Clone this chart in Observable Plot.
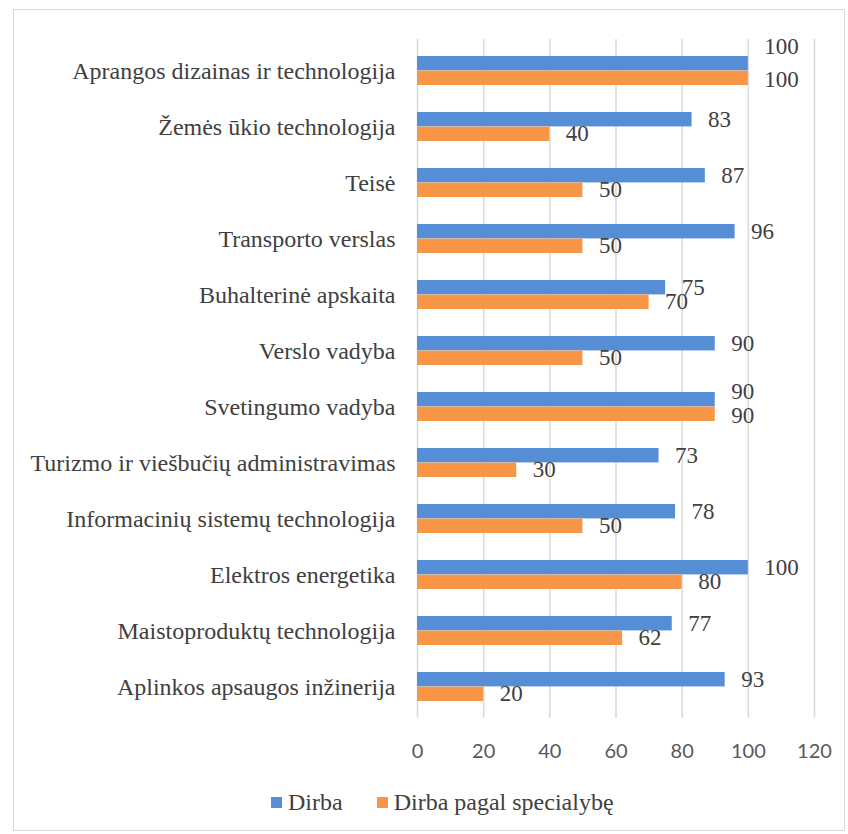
<!DOCTYPE html>
<html><head><meta charset="utf-8">
<script src="https://cdn.jsdelivr.net/npm/d3@7"></script>
<script src="https://cdn.jsdelivr.net/npm/@observablehq/plot@0.6"></script>
<style>
body{margin:0;background:#fff;width:848px;height:834px;overflow:hidden;position:relative;}
#frame{position:absolute;left:13px;top:9px;width:832px;height:822px;border:1px solid #d9d9d9;box-sizing:border-box;}
#chart{position:absolute;left:0;top:0;}
#legend{position:absolute;left:271px;top:789px;display:flex;align-items:center;font-family:"Liberation Serif","Times New Roman",serif;font-size:24px;line-height:26px;color:#404040;white-space:nowrap;}
#legend .sw{display:inline-block;width:11px;height:11px;margin-right:6px;}
#legend .item{display:flex;align-items:center;margin-right:34px;}
</style>
</head><body>
<div id="frame"></div>
<div id="chart"></div>
<div id="legend"></div>
<script>
const categories = [
  "Aprangos dizainas ir technologija",
  "Žemės ūkio technologija",
  "Teisė",
  "Transporto verslas",
  "Buhalterinė apskaita",
  "Verslo vadyba",
  "Svetingumo vadyba",
  "Turizmo ir viešbučių administravimas",
  "Informacinių sistemų technologija",
  "Elektros energetika",
  "Maistoproduktų technologija",
  "Aplinkos apsaugos inžinerija"
];
const dirba = [100, 83, 87, 96, 75, 90, 90, 73, 78, 100, 77, 93];
const dirbaPagal = [100, 40, 50, 50, 70, 50, 90, 30, 50, 80, 62, 20];
const seriesNames = ["Dirba", "Dirba pagal specialybę"];
const seriesColors = ["#558ED5", "#F79646"];
const xTicks = [0, 20, 40, 60, 80, 100, 120];

const blue = categories.map((c, i) => ({cat: c, value: dirba[i], other: dirbaPagal[i]}));
const orange = categories.map((c, i) => ({cat: c, value: dirbaPagal[i], other: dirba[i]}));

const bw = 14.6;
const serif = '"Liberation Serif","Times New Roman",serif';
const lblStyle = {fontSize: 23, fontFamily: serif, fill: "#404040", textAnchor: "start", dx: 16};

const plot = Plot.plot({
  width: 848,
  height: 770,
  marginLeft: 417,
  marginRight: 34,
  marginTop: 39,
  marginBottom: 52,
  style: {fontFamily: serif, fontSize: "24px", color: "#404040", background: "transparent"},
  x: {domain: [0, 120]},
  y: {domain: categories, paddingInner: 0.484, paddingOuter: 0.242},
  marks: [
    Plot.ruleX(xTicks, {stroke: "#d9d9d9", strokeWidth: 1.5}),
    Plot.barX(blue, {x: "value", y: "cat", fill: seriesColors[0], insetBottom: bw}),
    Plot.barX(orange, {x: "value", y: "cat", fill: seriesColors[1], insetTop: bw}),
    Plot.text(blue.filter(d => d.value !== d.other), {x: "value", y: "cat", text: d => String(d.value), dy: -7, ...lblStyle}),
    Plot.text(blue.filter(d => d.value === d.other && d.value < 100), {x: "value", y: "cat", text: d => String(d.value), dy: -15, ...lblStyle}),
    Plot.text(blue.filter(d => d.value === d.other && d.value >= 100), {x: "value", y: "cat", text: d => String(d.value), dy: -24, ...lblStyle}),
    Plot.text(orange.filter(d => d.value !== d.other), {x: "value", y: "cat", text: d => String(d.value), dy: 7, ...lblStyle}),
    Plot.text(orange.filter(d => d.value === d.other), {x: "value", y: "cat", text: d => String(d.value), dy: 9, ...lblStyle}),
    Plot.axisY({tickSize: 0, tickPadding: 22, fontSize: 24, fontFamily: serif, fill: "#404040", label: null}),
    Plot.axisX({ticks: xTicks, tickSize: 0, tickPadding: 25, fontSize: 20, fontFamily: "Lato, 'Open Sans', sans-serif", fill: "#595959", label: null})
  ]
});
document.getElementById("chart").appendChild(plot);

const legend = document.getElementById("legend");
seriesNames.forEach((name, i) => {
  const item = document.createElement("span");
  item.className = "item";
  const sw = document.createElement("span");
  sw.className = "sw";
  sw.style.background = seriesColors[i];
  item.appendChild(sw);
  item.appendChild(document.createTextNode(name));
  legend.appendChild(item);
});
</script>
</body></html>
